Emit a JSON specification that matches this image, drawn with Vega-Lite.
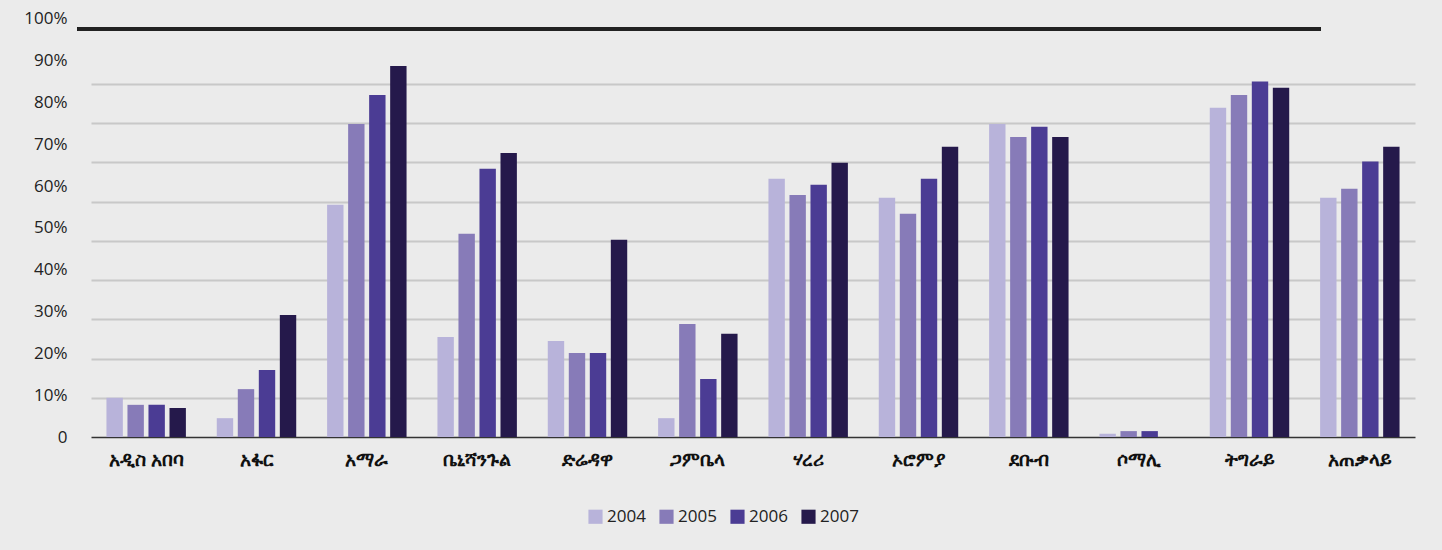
{
  "$schema": "https://vega.github.io/schema/vega-lite/v6.json",
  "autosize": "none",
  "width": 1324,
  "height": 408,
  "padding": {"left": 91, "top": 29, "right": 27, "bottom": 113},
  "background": "#ebebeb",
  "config": {"view": {"stroke": null}, "font": "Open Sans"},
  "data": {"values": [
    {"region": "አዲስ አበባ", "year": "2004", "value": 0.100},
    {"region": "አዲስ አበባ", "year": "2005", "value": 0.082},
    {"region": "አዲስ አበባ", "year": "2006", "value": 0.082},
    {"region": "አዲስ አበባ", "year": "2007", "value": 0.074},
    {"region": "አፋር", "year": "2004", "value": 0.048},
    {"region": "አፋር", "year": "2005", "value": 0.122},
    {"region": "አፋር", "year": "2006", "value": 0.171},
    {"region": "አፋር", "year": "2007", "value": 0.311},
    {"region": "አማራ", "year": "2004", "value": 0.592},
    {"region": "አማራ", "year": "2005", "value": 0.798},
    {"region": "አማራ", "year": "2006", "value": 0.872},
    {"region": "አማራ", "year": "2007", "value": 0.946},
    {"region": "ቤኒሻንጉል", "year": "2004", "value": 0.255},
    {"region": "ቤኒሻንጉል", "year": "2005", "value": 0.518},
    {"region": "ቤኒሻንጉል", "year": "2006", "value": 0.684},
    {"region": "ቤኒሻንጉል", "year": "2007", "value": 0.724},
    {"region": "ድሬዳዋ", "year": "2004", "value": 0.245},
    {"region": "ድሬዳዋ", "year": "2005", "value": 0.214},
    {"region": "ድሬዳዋ", "year": "2006", "value": 0.214},
    {"region": "ድሬዳዋ", "year": "2007", "value": 0.503},
    {"region": "ጋምቤላ", "year": "2004", "value": 0.048},
    {"region": "ጋምቤላ", "year": "2005", "value": 0.288},
    {"region": "ጋምቤላ", "year": "2006", "value": 0.148},
    {"region": "ጋምቤላ", "year": "2007", "value": 0.263},
    {"region": "ሃረሪ", "year": "2004", "value": 0.658},
    {"region": "ሃረሪ", "year": "2005", "value": 0.617},
    {"region": "ሃረሪ", "year": "2006", "value": 0.643},
    {"region": "ሃረሪ", "year": "2007", "value": 0.699},
    {"region": "ኦሮምያ", "year": "2004", "value": 0.610},
    {"region": "ኦሮምያ", "year": "2005", "value": 0.569},
    {"region": "ኦሮምያ", "year": "2006", "value": 0.658},
    {"region": "ኦሮምያ", "year": "2007", "value": 0.740},
    {"region": "ደቡብ", "year": "2004", "value": 0.798},
    {"region": "ደቡብ", "year": "2005", "value": 0.765},
    {"region": "ደቡብ", "year": "2006", "value": 0.791},
    {"region": "ደቡብ", "year": "2007", "value": 0.765},
    {"region": "ሶማሊ", "year": "2004", "value": 0.008},
    {"region": "ሶማሊ", "year": "2005", "value": 0.015},
    {"region": "ሶማሊ", "year": "2006", "value": 0.015},
    {"region": "ትግራይ", "year": "2004", "value": 0.839},
    {"region": "ትግራይ", "year": "2005", "value": 0.872},
    {"region": "ትግራይ", "year": "2006", "value": 0.906},
    {"region": "ትግራይ", "year": "2007", "value": 0.890},
    {"region": "አጠቃላይ", "year": "2004", "value": 0.610},
    {"region": "አጠቃላይ", "year": "2005", "value": 0.633},
    {"region": "አጠቃላይ", "year": "2006", "value": 0.702},
    {"region": "አጠቃላይ", "year": "2007", "value": 0.740}
  ]},
  "layer": [
    {
      "mark": {"type": "bar"},
      "encoding": {
        "x": {
          "field": "region", "type": "nominal", "sort": null,
          "scale": {"paddingInner": 0.28, "paddingOuter": 0.14},
          "axis": {
            "title": null, "labelAngle": 0, "ticks": false,
            "domainColor": "#333333", "domainWidth": 1.5,
            "labelFontSize": 19, "labelFontWeight": "bold", "labelColor": "#111111", "labelPadding": 13,
            "labelFont": "Noto Sans"
          }
        },
        "xOffset": {"field": "year", "type": "nominal", "scale": {"paddingInner": 0.22}},
        "y": {
          "field": "value", "type": "quantitative",
          "scale": {"domain": [0, 1.04], "nice": false},
          "axis": {
            "title": null, "domain": false, "ticks": false,
            "values": [0, 0.1, 0.2, 0.3, 0.4, 0.5, 0.6, 0.7, 0.8, 0.9, 1.0],
            "labelExpr": "datum.value == 0 ? '0' : format(datum.value, '.0%')",
            "labelFontSize": 17, "labelColor": "#222222", "labelPadding": 24,
            "labelOffset": {"expr": "-26*datum.value"},
            "gridColor": "#c8c8c8", "gridWidth": 2,
            "gridOpacity": {"condition": {"test": "datum.value == 0 || datum.value >= 1", "value": 0}, "value": 1}
          }
        },
        "color": {
          "field": "year", "type": "nominal",
          "scale": {"domain": ["2004", "2005", "2006", "2007"], "range": ["#b8b3da", "#877bb8", "#4b3c94", "#25194b"]},
          "legend": {
            "title": null, "orient": "none", "direction": "horizontal",
            "legendX": 496, "legendY": 479,
            "symbolType": "square", "symbolSize": 200, "symbolStrokeWidth": 0,
            "labelFontSize": 17, "labelColor": "#222222", "columnPadding": 12, "labelOffset": 3
          }
        }
      }
    },
    {
      "mark": {"type": "rule", "color": "#222222", "strokeWidth": 3},
      "encoding": {
        "x": {"datum": "አዲስ አበባ", "type": "nominal", "bandPosition": -0.36},
        "x2": {"datum": "ትግራይ", "bandPosition": 1.39},
        "y": {"datum": 1.04, "type": "quantitative"}
      }
    }
  ]
}
